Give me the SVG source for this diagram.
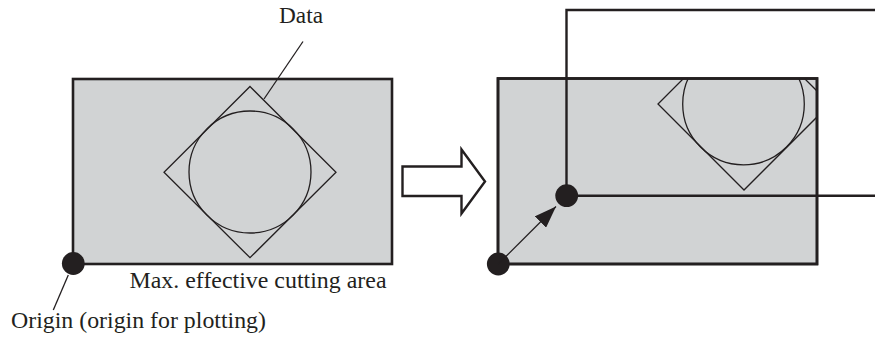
<svg xmlns="http://www.w3.org/2000/svg" width="875" height="338" viewBox="0 0 875 338">
<style>
.area{fill:#d1d3d4;stroke:#231f20;stroke-width:2.6}
.thin{fill:none;stroke:#231f20;stroke-width:1.3}
.frame{fill:none;stroke:#231f20;stroke-width:2.4}
.dot{fill:#231f20}
.lbl{font-family:"Liberation Serif","Times New Roman",serif;font-size:23.5px;fill:#231f20}
</style>
<defs>
<clipPath id="clipR"><rect x="498" y="78.5" width="319" height="185.5"/></clipPath>
<marker id="ah" viewBox="0 0 22 16" refX="22" refY="8" markerWidth="22" markerHeight="16" markerUnits="userSpaceOnUse" orient="auto"><path d="M0,0 L22,8 L0,16 z" fill="#231f20"/></marker>
</defs>
<g id="left-area">
<rect class="area" x="73" y="79" width="319" height="185"/>
<polygon class="thin" points="250,86.5 336,172.3 250,257.7 164,172.3"/>
<circle class="thin" cx="250" cy="172" r="61"/>
<circle class="dot" cx="73.3" cy="263.5" r="11.4"/>
</g>
<g id="big-arrow">
<polygon points="402.5,166.5 461.5,166.5 461.5,149.5 485,181.5 461.5,213.5 461.5,196 402.5,196" fill="#fff" stroke="#231f20" stroke-width="2.4"/>
</g>
<g id="right-area">
<rect class="area" x="498" y="78.5" width="319" height="185.5"/>
<g clip-path="url(#clipR)">
<polygon class="thin" points="744,18 830,104 744,190 658,104"/>
<circle class="thin" cx="743.5" cy="104" r="60.8"/>
</g>
<rect x="498" y="78.5" width="319" height="185.5" fill="none" stroke="#231f20" stroke-width="2.6"/>
</g>
<g id="plot-frame">
<polyline class="frame" points="875,10 566.5,10 566.5,195.7 875,195.7"/>
<circle class="dot" cx="566.7" cy="195.7" r="11.4"/>
<circle class="dot" cx="498.3" cy="264" r="11.4"/>
</g>
<g id="connectors">
<line x1="303" y1="41.5" x2="264" y2="99" class="thin"/>
<line x1="68.3" y1="275" x2="53.3" y2="310" class="thin"/>
<line x1="498.3" y1="264" x2="556" y2="206.5" class="thin" marker-end="url(#ah)"/>
</g>
<g id="labels">
<text class="lbl" x="279" y="23.3" textLength="44" lengthAdjust="spacingAndGlyphs">Data</text>
<text class="lbl" x="129.5" y="288.3" textLength="257" lengthAdjust="spacingAndGlyphs">Max. effective cutting area</text>
<text class="lbl" x="11" y="328.3" textLength="255" lengthAdjust="spacingAndGlyphs">Origin (origin for plotting)</text>
</g>
</svg>
